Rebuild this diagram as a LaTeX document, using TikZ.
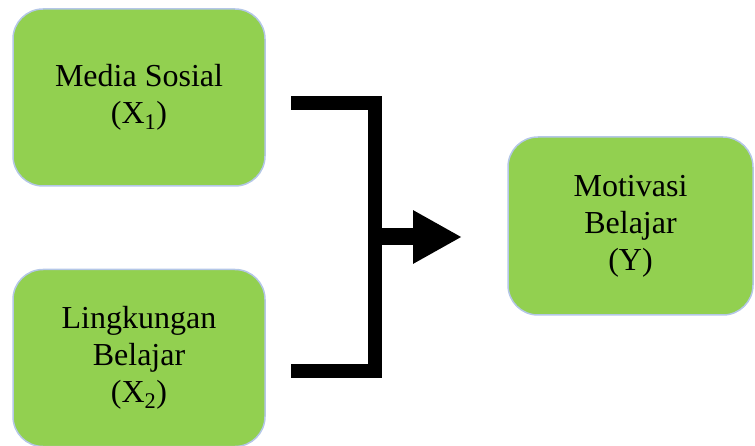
\documentclass[tikz,border=0pt]{standalone}
\usepackage{fontspec}
\setmainfont{Liberation Serif}
\usetikzlibrary{arrows.meta}
\definecolor{boxgreen}{HTML}{92D050}
\definecolor{boxborder}{HTML}{B4C7E7}
\begin{document}
\begin{tikzpicture}[x=1pt,y=-1pt,
  box/.style={draw=boxborder, line width=1.5pt, fill=boxgreen, rounded corners=30pt,
    minimum width=252pt, minimum height=177pt, align=center,
    font=\fontsize{32}{37}\selectfont, inner sep=0pt},
  link/.style={line width=14pt, line join=miter}]
\useasboundingbox (0,0) rectangle (755,446);
\node[box] (x1) at (139,97.5) {Media Sosial\\(X\textsubscript{1})};
\node[box] (x2) at (139,358) {Lingkungan\\Belajar\\(X\textsubscript{2})};
\node[box, minimum width=245pt, minimum height=178pt] (y) at (630.5,226) {Motivasi\\Belajar\\(Y)};
\coordinate (t) at (291,103);
\coordinate (b) at (291,371);
\coordinate (m) at (375,237);
\coordinate (tip) at (462,237);
\draw[link] (t) -| (m) |- (b);
\draw[line width=17pt, -{Triangle[length=49pt,width=50pt]}] (m) -- (tip);
\end{tikzpicture}
\end{document}
